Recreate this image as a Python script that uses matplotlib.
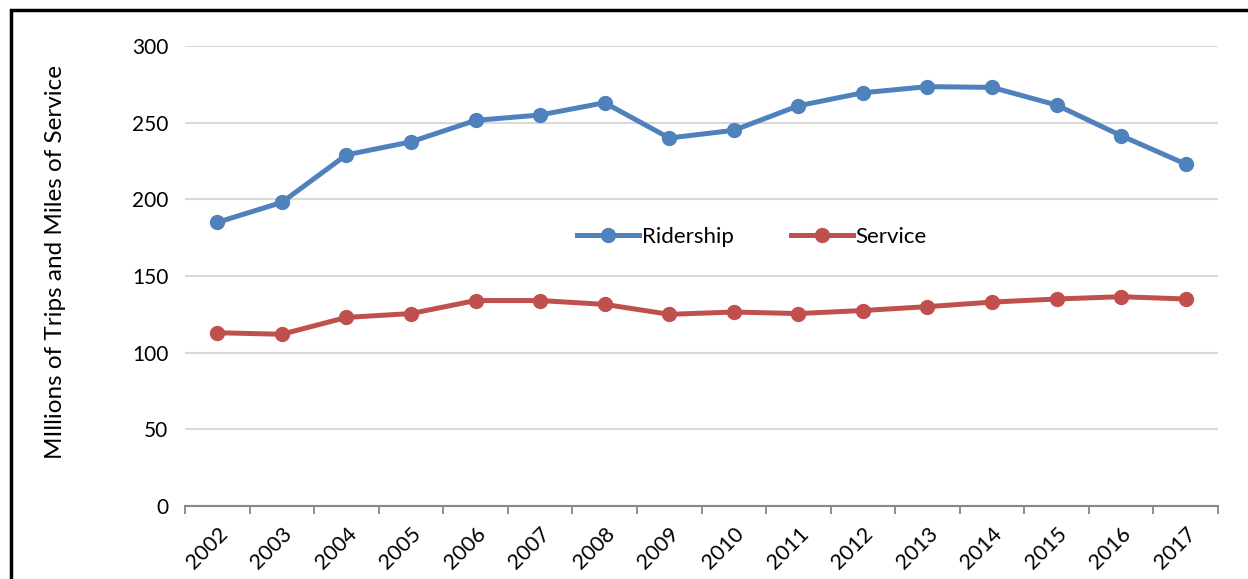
import matplotlib.pyplot as plt
from matplotlib.patches import Rectangle
import numpy as np

plt.rcParams['font.family'] = ['Lato', 'DejaVu Sans']

years = ['2002', '2003', '2004', '2005', '2006', '2007', '2008', '2009',
         '2010', '2011', '2012', '2013', '2014', '2015', '2016', '2017']
ridership = [185, 198, 229, 237.5, 251.5, 255, 263, 240,
             245, 261, 269.5, 273.5, 273, 261.5, 241.5, 223]
service = [113, 112, 123, 125.5, 134, 134, 131.5, 125,
           126.5, 125.5, 127.5, 130, 133, 135, 136.5, 135]

blue = '#4F81BD'
red = '#C0504D'

fig = plt.figure(figsize=(12.48, 5.79), dpi=100)
ax = fig.add_axes([185/1248, 1 - 506/579, 1033/1248, 460/579])

x = np.arange(len(years))
ax.plot(x, ridership, color=blue, lw=3.6, marker='o', ms=10, label='Ridership', zorder=3)
ax.plot(x, service, color=red, lw=3.6, marker='o', ms=10, label='Service', zorder=3)

ax.set_xlim(-0.5, len(years) - 0.5)
ax.set_ylim(0, 300)
ax.set_yticks(range(0, 301, 50))
ax.yaxis.grid(True, color='#D9D9D9', lw=1.5)
ax.set_axisbelow(True)

# category axis: ticks between categories, labels at centers
ax.set_xticks(np.arange(-0.5, len(years), 1))
ax.set_xticklabels([])
ax.set_xticks(x, minor=True)
ax.set_xticklabels(years, minor=True, rotation=45, ha='right',
                   rotation_mode='anchor', fontsize=15.5)
ax.tick_params(axis='x', which='major', length=6, width=1.3, color='#868686', direction='out')
ax.tick_params(axis='x', which='minor', length=0, pad=13)
ax.tick_params(axis='y', length=0, labelsize=15, pad=12)

for s in ['top', 'right', 'left']:
    ax.spines[s].set_visible(False)
ax.spines['bottom'].set_color('#868686')
ax.spines['bottom'].set_linewidth(1.5)

ax.set_ylabel('MIllions of Trips and Miles of Service', fontsize=17.5)
ax.yaxis.set_label_coords(-0.115, 0.53)

fig.legend(loc='center', bbox_to_anchor=(752/1248, 1 - 237/579), ncol=2,
           frameon=False, fontsize=16, handlelength=2.8, columnspacing=2.6,
           handletextpad=0.1)

# outer border of the chart area
fig.patches.append(Rectangle((11/1248, -0.1), 1.5, 1 - 10/579 + 0.1,
                             transform=fig.transFigure, fill=False,
                             edgecolor='black', lw=2.5))

fig.savefig('out.png', dpi=100)
